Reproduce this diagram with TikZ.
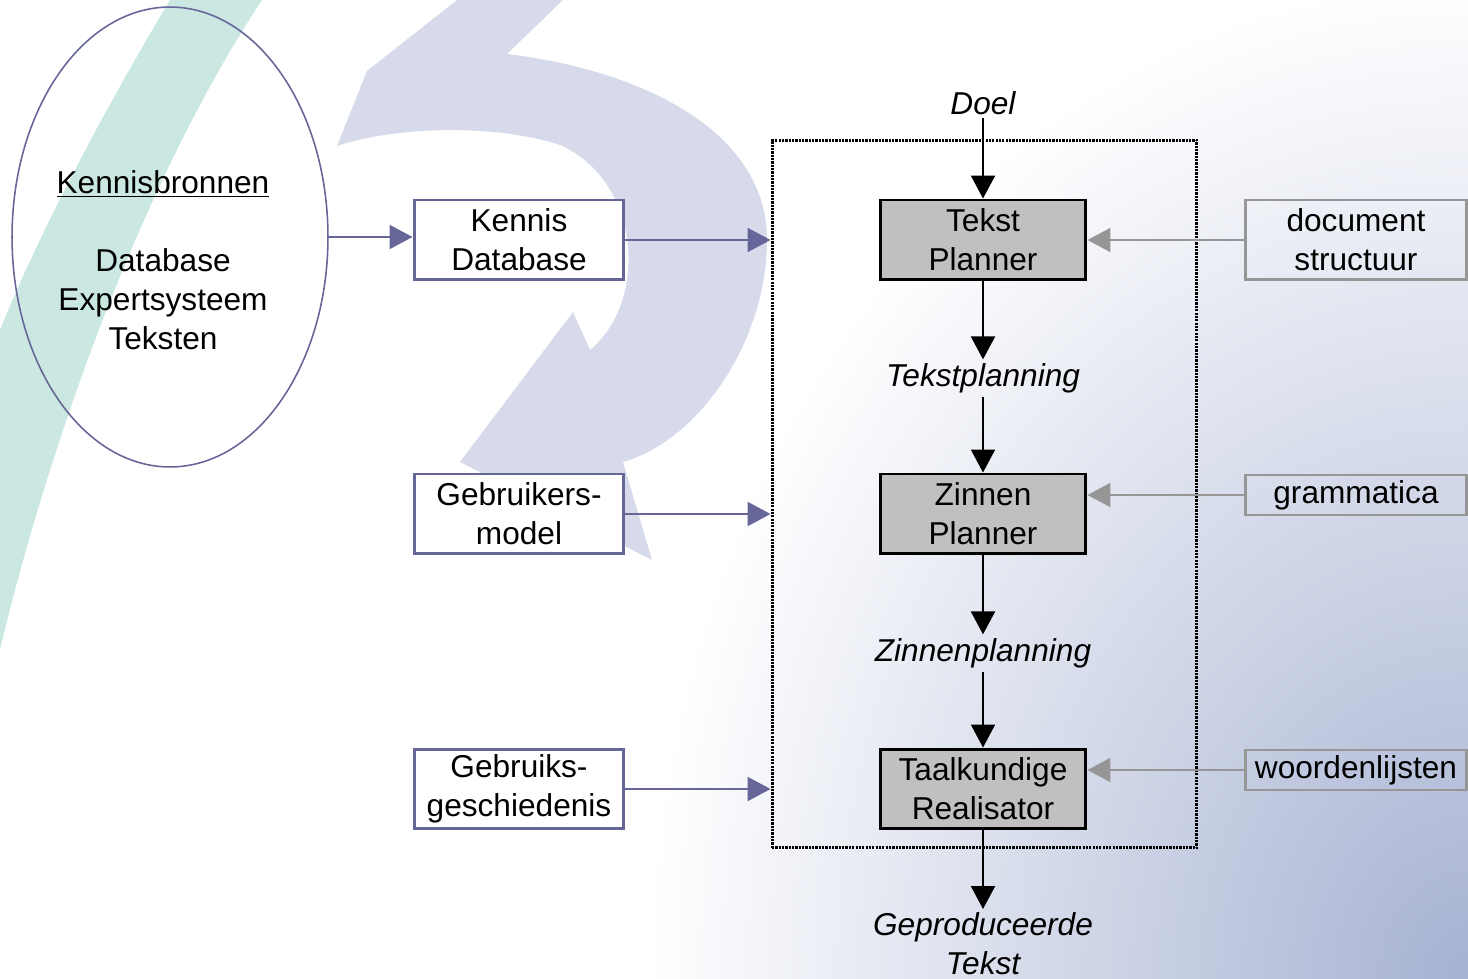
\documentclass[tikz,border=0pt]{standalone}
\usepackage{fontspec}
\setmainfont{Liberation Sans}
\usetikzlibrary{shapes.geometric,arrows.meta}
\definecolor{paars}{RGB}{102,102,153}
\definecolor{lila}{RGB}{214,218,234}
\definecolor{mint}{RGB}{202,232,225}
\definecolor{grijs}{RGB}{150,150,150}
\definecolor{vulgrijs}{RGB}{192,192,192}
\definecolor{hoek}{RGB}{166,178,210}
\tikzstyle{bron}=[rectangle,
	       draw=paars,
	       fill=white,
	       line width=1.7pt,
	       minimum width=4.2cm,
	       minimum height=1.6cm,
	       align=center,
	       inner sep=0pt]
\tikzstyle{stap}=[rectangle,
	       draw=black,
	       fill=vulgrijs,
	       line width=1.7pt,
	       minimum width=4.12cm,
	       minimum height=1.6cm,
	       align=center,
	       inner sep=0pt]
\tikzstyle{hulp}=[rectangle,
	       draw=grijs,
	       line width=1.7pt,
	       minimum width=4.44cm,
	       minimum height=0.8cm,
	       align=center,
	       inner sep=0pt]
\tikzstyle{tussen}=[font=\fontsize{18}{22.2}\selectfont\itshape,
	       align=center,
	       inner sep=2pt]
\tikzstyle{pijl}=[-{Triangle[length=0.46cm,width=0.48cm]},
	       line width=1.2pt]

\begin{document}
\begin{tikzpicture}[x=0.02cm, y=-0.02cm, font=\fontsize{18}{22.2}\selectfont]
\useasboundingbox (0,0) rectangle (1468,979);

% background: corner gradient, mint band and the big curved arrow
\begin{scope}
\clip (0,0) rectangle (1468,979);
\shade[inner color=hoek, outer color=white] (1468,979) ellipse[x radius=820, y radius=1000];
\fill[mint] (170,0) .. controls (110,100) and (40,230) .. (0,330)
  -- (0,650) .. controls (40,480) and (130,200) .. (262,0) -- cycle;
\fill[lila] (337,146) -- (367,71) -- (457,0) -- (563,0) -- (507,54)
  .. controls (640,70) and (767,130) .. (767,240)
  .. controls (767,340) and (700,440) .. (623,462)
  -- (652,560) -- (460,462) -- (573,312) -- (590,350)
  .. controls (650,300) and (640,180) .. (560,145)
  .. controls (500,125) and (400,125) .. (337,146) -- cycle;
\end{scope}

% knowledge sources on the left
\node[ellipse, draw=paars, line width=0.9pt, minimum width=6.32cm, minimum height=9.2cm] (kb) at (170,237) {};
\node[align=center] (kbtekst) at (163,260) {\underline{Kennisbronnen}\\[22.2pt]Database\\Expertsysteem\\Teksten};

\node[bron] (kdb) at (519,240) {Kennis\\Database};
\node[bron] (gm) at (519,514) {Gebruikers-\\model};
\node[bron] (gg) at (519,789) {Gebruiks-\\geschiedenis};

% dotted frame round the generator
\node[draw, line width=1.7pt, dash pattern=on 1.3pt off 0.6pt, inner sep=0pt,
      minimum width=8.5cm, minimum height=14.16cm] (sys) at (984.5,494) {};

% the three steps
\node[stap] (tp) at (983,240) {Tekst\\Planner};
\node[stap] (zp) at (983,514) {Zinnen\\Planner};
\node[stap] (tr) at (983,789) {Taalkundige\\Realisator};

% in- and output of the steps
\node[tussen] (doel) at (983,103) {Doel};
\node[tussen] (tpl) at (983,378) {Tekstplanning};
\node[tussen] (zpl) at (983,653) {Zinnenplanning};
\node[tussen] (gt) at (983,944) {Geproduceerde\\Tekst};

% resources on the right
\node[hulp, minimum height=1.6cm] (ds) at (1356,240) {document\\structuur};
\node[hulp] (gr) at (1356,495) {grammatica};
\node[hulp] (wl) at (1356,770) {woordenlijsten};

% main flow
\draw[pijl] (doel) -- (tp);
\draw[pijl] (tp) -- (tpl);
\draw[pijl] (tpl) -- (zp);
\draw[pijl] (zp) -- (zpl);
\draw[pijl] (zpl) -- (tr);
\draw[pijl] (tr) -- (gt);

% sources into the frame
\draw[pijl, draw=paars] (kb.east) -- (kb.east -| kdb.west);
\draw[pijl, draw=paars] (kdb.east) -- (kdb.east -| sys.west);
\draw[pijl, draw=paars] (gm.east) -- (gm.east -| sys.west);
\draw[pijl, draw=paars] (gg.east) -- (gg.east -| sys.west);

% resources into the steps
\draw[pijl, draw=grijs] (ds.west) -- (ds.west -| tp.east);
\draw[pijl, draw=grijs] (gr.west) -- (gr.west -| zp.east);
\draw[pijl, draw=grijs] (wl.west) -- (wl.west -| tr.east);

\end{tikzpicture}
\end{document}
